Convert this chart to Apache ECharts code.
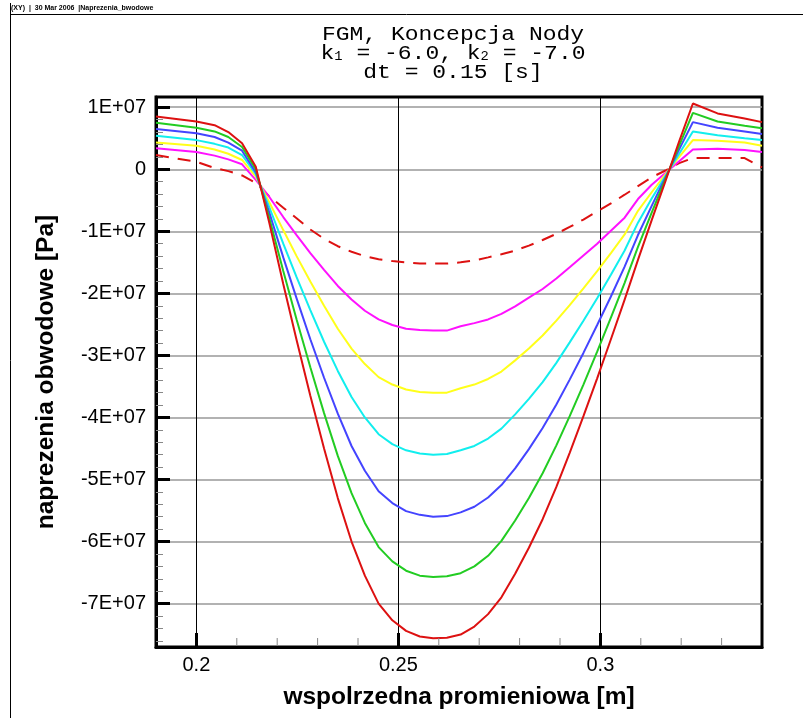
<!DOCTYPE html>
<html><head><meta charset="utf-8">
<script src="https://cdn.jsdelivr.net/npm/echarts@6/dist/echarts.min.js"></script>
<style>html,body{margin:0;padding:0;background:#fff}#c{width:803px;height:718px}</style>
</head><body><div id="c"></div>
<script>
// x positions [m]
const X = [0.19,0.2,0.2045,0.2079,0.2113,0.2147,0.2181,0.2215,0.2248,0.2282,0.2316,0.235,0.2384,0.2417,0.2451,0.2485,0.2519,0.2553,0.2586,0.262,0.2654,0.2688,0.2722,0.2755,0.2789,0.2823,0.2857,0.2891,0.2924,0.2958,0.2992,0.3026,0.306,0.3093,0.3127,0.3161,0.3195,0.3229,0.329,0.3357,0.34];
// values in 1E+07 Pa
const redSolid = [0.85,0.77,0.71,0.60,0.42,0.04,-0.88,-1.85,-2.75,-3.65,-4.5,-5.3,-6.0,-6.55,-7.0,-7.27,-7.44,-7.53,-7.56,-7.55,-7.50,-7.37,-7.17,-6.90,-6.52,-6.10,-5.64,-5.12,-4.57,-3.98,-3.37,-2.74,-2.10,-1.46,-0.82,-0.19,0.45,1.06,0.90,0.82,0.76];
const green = [0.75,0.67,0.61,0.52,0.36,0.0,-0.80,-1.64,-2.42,-3.19,-3.93,-4.62,-5.22,-5.70,-6.09,-6.32,-6.47,-6.55,-6.57,-6.56,-6.51,-6.40,-6.23,-5.99,-5.66,-5.30,-4.90,-4.45,-3.98,-3.47,-2.94,-2.39,-1.83,-1.25,-0.70,-0.16,0.38,0.91,0.77,0.70,0.66];
const blue = [0.65,0.58,0.52,0.43,0.30,-0.05,-0.71,-1.42,-2.08,-2.74,-3.36,-3.94,-4.46,-4.86,-5.19,-5.38,-5.51,-5.57,-5.60,-5.59,-5.53,-5.44,-5.29,-5.09,-4.82,-4.51,-4.17,-3.79,-3.39,-2.96,-2.51,-2.05,-1.57,-1.06,-0.59,-0.13,0.32,0.76,0.67,0.61,0.57];
const cyan = [0.54,0.47,0.41,0.35,0.23,-0.08,-0.62,-1.20,-1.74,-2.27,-2.78,-3.25,-3.67,-4.00,-4.27,-4.43,-4.53,-4.58,-4.60,-4.59,-4.53,-4.46,-4.34,-4.18,-3.95,-3.70,-3.43,-3.12,-2.79,-2.44,-2.08,-1.70,-1.31,-0.86,-0.47,-0.11,0.25,0.61,0.55,0.50,0.47];
const yellow = [0.43,0.38,0.32,0.25,0.15,-0.12,-0.54,-0.98,-1.40,-1.81,-2.20,-2.57,-2.89,-3.14,-3.35,-3.47,-3.55,-3.59,-3.60,-3.60,-3.53,-3.47,-3.38,-3.26,-3.08,-2.89,-2.68,-2.44,-2.19,-1.92,-1.64,-1.35,-1.05,-0.67,-0.37,-0.08,0.20,0.47,0.46,0.43,0.38];
const magenta = [0.34,0.28,0.22,0.16,0.08,-0.17,-0.45,-0.77,-1.06,-1.35,-1.62,-1.88,-2.10,-2.28,-2.42,-2.51,-2.57,-2.59,-2.60,-2.60,-2.53,-2.48,-2.42,-2.33,-2.21,-2.07,-1.93,-1.76,-1.58,-1.39,-1.20,-0.99,-0.78,-0.48,-0.25,-0.06,0.13,0.32,0.33,0.31,0.28];
const redDashed = [0.23,0.12,0.02,-0.03,-0.10,-0.22,-0.44,-0.62,-0.79,-0.97,-1.12,-1.24,-1.33,-1.40,-1.45,-1.48,-1.50,-1.52,-1.52,-1.52,-1.50,-1.47,-1.42,-1.37,-1.31,-1.23,-1.14,-1.04,-0.93,-0.81,-0.68,-0.55,-0.41,-0.27,-0.13,-0.02,0.10,0.18,0.18,0.18,0.03];
// ticks
const xMajor = [0.2,0.25,0.3];
const xMinor = [0.21,0.22,0.23,0.24,0.26,0.27,0.28,0.29,0.31,0.32,0.33];
const yMajor = [1,0,-1,-2,-3,-4,-5,-6,-7];           // in 1E+07
const yMinor = [0.8,0.6,0.4,0.2,-0.2,-0.4,-0.6,-0.8,-1.2,-1.4,-1.6,-1.8,-2.2,-2.4,-2.6,-2.8,-3.2,-3.4,-3.6,-3.8,-4.2,-4.4,-4.6,-4.8,-5.2,-5.4,-5.6,-5.8,-6.2,-6.4,-6.6,-6.8,-7.2,-7.4,-7.6];
const yLabels = ['1E+07','0','-1E+07','-2E+07','-3E+07','-4E+07','-5E+07','-6E+07','-7E+07'];

const SCALE = 1e7;
const XMIN = 0.19, XMAX = 0.34, YMIN = -7.7e7, YMAX = 1.165e7;
function pts(arr){ return X.map((x,i)=>[x, arr[i]*SCALE]); }
const curves = [
  {name:'dashed', data:redDashed, color:'#dd1111', type:[13,9]},
  {name:'magenta', data:magenta, color:'#ff11ff'},
  {name:'yellow', data:yellow, color:'#ffff1a'},
  {name:'cyan', data:cyan, color:'#11eeee'},
  {name:'blue', data:blue, color:'#4444ff'},
  {name:'green', data:green, color:'#22cc22'},
  {name:'red', data:redSolid, color:'#dd1111'}
];
const chart = echarts.init(document.getElementById('c'), null, {renderer:'canvas'});
const fmtY = v => { const k = Math.round(v/SCALE); const i = yMajor.indexOf(k); return i < 0 ? '' : yLabels[i]; };
const fmtX = v => { const f = xMajor.find(t=>Math.abs(t-v)<1e-9); return f===undefined ? '' : String(f); };
const series = curves.map(c => ({
  type:'line', name:c.name, data:pts(c.data), showSymbol:false, symbol:'none',
  xAxisIndex:0, yAxisIndex:0,
  lineStyle:{color:c.color, width:2, type:c.type || 'solid'}, z:3
}));
// minor ticks on the bottom axis, placed through the x scale
series.push({
  type:'custom', name:'xminor', xAxisIndex:0, yAxisIndex:0, z:4, silent:true, clip:false,
  data: xMinor.map(v => [v, YMIN]),
  renderItem: (params, api) => {
    const p = api.coord([api.value(0), api.value(1)]);
    return {type:'line', shape:{x1:p[0], y1:p[1]-1, x2:p[0], y2:p[1]-9}, style:{stroke:'#888', lineWidth:1}};
  }
});
chart.setOption({
  animation:false,
  backgroundColor:'#fff',
  grid:{left:156, top:97, width:606, height:550, show:true, borderColor:'#000', borderWidth:3, backgroundColor:'transparent'},
  xAxis:[{
    type:'value', min:XMIN, max:XMAX,
    name:'wspolrzedna promieniowa [m]', nameLocation:'middle', nameGap:38,
    nameTextStyle:{fontFamily:'Liberation Sans', fontWeight:'bold', fontSize:24.5, color:'#000'},
    axisLine:{show:true, onZero:false, lineStyle:{color:'#000', width:3}},
    axisTick:{show:true, inside:true, length:14, customValues:xMajor, lineStyle:{color:'#000', width:3}},
    minorTick:{show:false},
    splitLine:{show:true, lineStyle:{color:'#000', width:1}},
    axisLabel:{fontFamily:'Liberation Sans', fontSize:20, color:'#000', margin:8, customValues:xMajor, formatter:fmtX}
  }],
  yAxis:[{
    type:'value', min:YMIN, max:YMAX,
    name:'naprezenia obwodowe [Pa]', nameLocation:'middle', nameGap:97, nameRotate:90,
    nameTextStyle:{fontFamily:'Liberation Sans', fontWeight:'bold', fontSize:24.5, color:'#000'},
    axisLine:{show:true, onZero:false, lineStyle:{color:'#000', width:3}},
    axisTick:{show:true, inside:true, length:14, customValues:yMajor.map(v=>v*SCALE), lineStyle:{color:'#000', width:3}},
    minorTick:{show:false},
    splitLine:{show:true, lineStyle:{color:'#999', width:1.5}},
    axisLabel:{fontFamily:'Liberation Sans', fontSize:20, color:'#000', margin:10, customValues:yMajor.map(v=>v*SCALE), formatter:fmtY}
  },{
    type:'value', min:YMIN, max:YMAX, position:'left', offset:0,
    axisLine:{show:true, onZero:false, lineStyle:{color:'rgba(0,0,0,0)', width:1}}, splitLine:{show:false}, axisLabel:{show:false},
    axisTick:{show:true, inside:true, length:7, customValues:yMinor.map(v=>v*SCALE), lineStyle:{color:'#888', width:1}}
  }],
  graphic:[
    {type:'line', shape:{x1:10, y1:14.5, x2:803, y2:14.5}, style:{stroke:'#000', lineWidth:1}},
    {type:'line', shape:{x1:10.5, y1:3, x2:10.5, y2:718}, style:{stroke:'#000', lineWidth:1}},
    {type:'text', left:11, top:5, style:{text:'(XY)  |  30 Mar 2006  |Naprezenia_bwodowe', fontSize:7, fontWeight:'bold', fontFamily:'Liberation Sans', fill:'#000'}},
    {type:'text', x:453, y:25, scaleX:1.15, scaleY:1,
      style:{text:'FGM, Koncepcja Nody\nk{s|1} = -6.0, k{s|2} = -7.0\ndt = 0.15 [s]',
        align:'center', verticalAlign:'top', fontFamily:'Liberation Mono', fontSize:20, lineHeight:19, fill:'#000',
        rich:{s:{fontFamily:'Liberation Mono', fontSize:12, fill:'#000', verticalAlign:'bottom', lineHeight:19, padding:[8,0,0,0]}}}}
  ],
  series: series
});
</script></body></html>
